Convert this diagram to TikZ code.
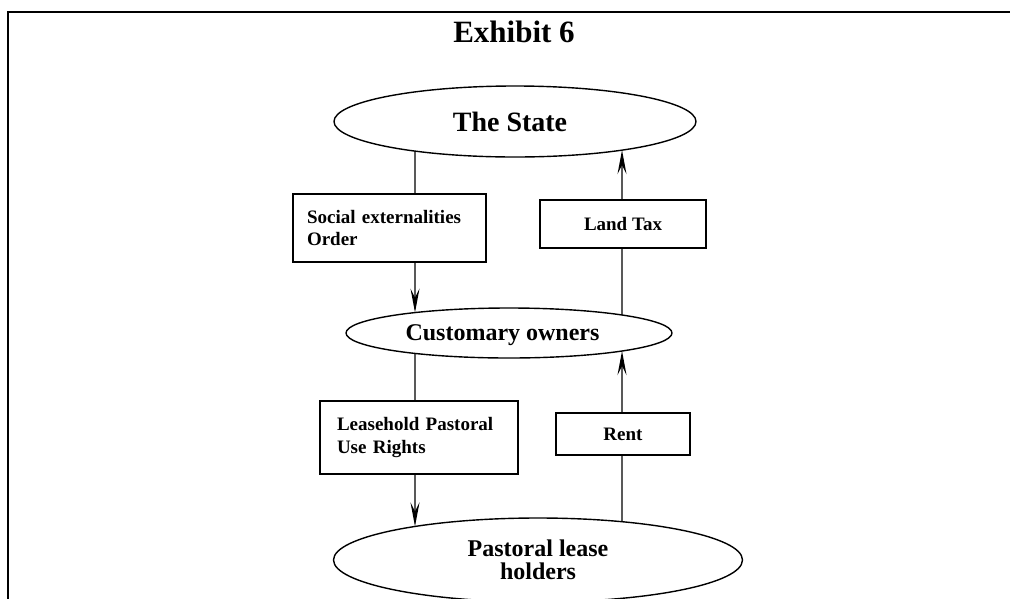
\documentclass[tikz,border=0pt]{standalone}
\usepackage{fontspec}
\setmainfont{Liberation Serif}
\usetikzlibrary{shapes.geometric,arrows.meta,intersections}
\tikzset{
  oval/.style={draw, ellipse, line width=1.4pt, inner sep=0pt, align=center},
  labelbox/.style={draw, rectangle, line width=1.4pt, inner sep=0pt,
    font=\bfseries\fontsize{19}{22.5}\selectfont},
  flow/.style={line width=1.4pt},
  flowarrow/.style={flow, -{Stealth[length=24pt,width=9pt,inset=9pt]}}
}
\begin{document}
\begin{tikzpicture}[x=1pt,y=-1pt]
\clip (0,0) rectangle (1010,598);
\fill[white] (0,0) rectangle (1010,598);
% frame
\draw[line width=2pt] (7.5,620) -- (7.5,12) -- (1030,12);
% title
\node[inner sep=0pt, font=\bfseries\fontsize{31}{31}\selectfont] (title) at (514,32) {Exhibit 6};
% ovals
\node[oval, name path=st, minimum width=362pt, minimum height=71pt,
  font=\bfseries\fontsize{28}{28}\selectfont] (st) at (515,121.5) {The State\hspace*{10pt}};
\node[oval, name path=co, minimum width=326pt, minimum height=50pt, text depth=0pt,
  font=\bfseries\fontsize{24}{24}\selectfont] (co) at (509,333) {Customary owners\hspace*{13pt}};
\node[oval, name path=pl, minimum width=409pt, minimum height=84pt,
  font=\bfseries\fontsize{24}{23}\selectfont] (pl) at (538,560) {Pastoral lease\\holders};
% boxes
\node[labelbox, align=left, text width=165pt, inner xsep=14pt, minimum height=68pt]
  (sb) at (389.5,228) {Social externalities\\Order};
\node[labelbox, minimum width=166pt, minimum height=48pt] (lt) at (623,224) {Land Tax};
\node[labelbox, align=left, text width=164pt, inner xsep=17pt, minimum height=73pt]
  (lh) at (419,437.5) {Leasehold Pastoral\\Use Rights};
\node[labelbox, minimum width=134pt, minimum height=42pt] (rb) at (623,434) {Rent};
% guide columns
\coordinate (lx) at (415,0);
\coordinate (rx) at (622,0);
% left column
\path[name path=a1] (sb.north -| lx) -- (st.center -| lx);
\draw[flow, name intersections={of=a1 and st, by=p1}] (sb.north -| lx) -- (p1);
\path[name path=a2] (sb.south -| lx) -- (co.center -| lx);
\draw[flowarrow, name intersections={of=a2 and co, by=p2}] (sb.south -| lx) -- (p2);
\path[name path=a3] (co.center -| lx) -- (lh.north -| lx);
\draw[flow, name intersections={of=a3 and co, by=p3}] (p3) -- (lh.north -| lx);
\path[name path=a4] (lh.south -| lx) -- (pl.center -| lx);
\draw[flowarrow, name intersections={of=a4 and pl, by=p4}] (lh.south -| lx) -- (p4);
% right column
\path[name path=b1] (pl.center -| rx) -- (rb.south -| rx);
\draw[flow, name intersections={of=b1 and pl, by=q1}] (q1) -- (rb.south -| rx);
\path[name path=b2] (rb.north -| rx) -- (co.center -| rx);
\draw[flowarrow, name intersections={of=b2 and co, by=q2}] (rb.north -| rx) -- (q2);
\path[name path=b3] (co.center -| rx) -- (lt.south -| rx);
\draw[flow, name intersections={of=b3 and co, by=q3}] (q3) -- (lt.south -| rx);
\path[name path=b4] (lt.north -| rx) -- (st.center -| rx);
\draw[flowarrow, name intersections={of=b4 and st, by=q4}] (lt.north -| rx) -- (q4);
\end{tikzpicture}
\end{document}
